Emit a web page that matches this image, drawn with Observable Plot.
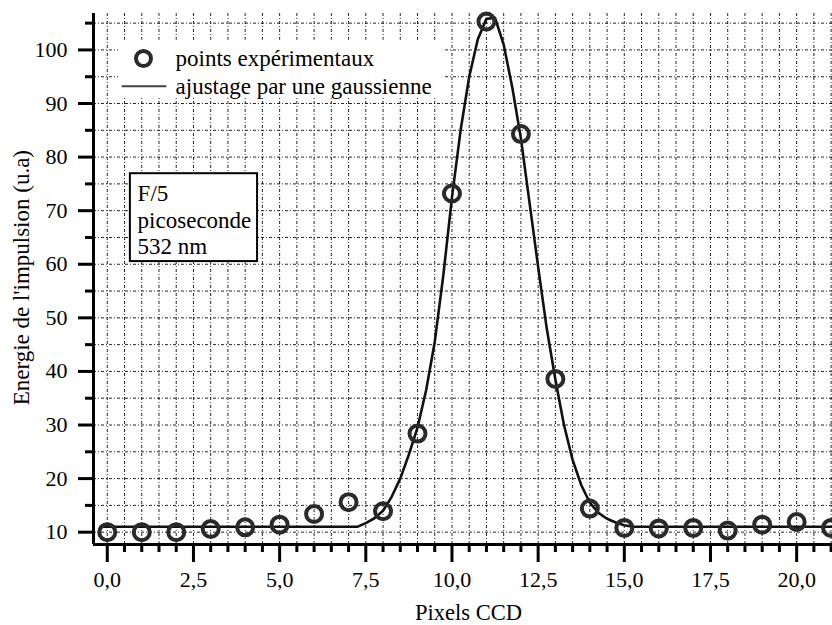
<!DOCTYPE html>
<html>
<head>
<meta charset="utf-8">
<script src="https://cdn.jsdelivr.net/npm/d3@7"></script>
<script src="https://cdn.jsdelivr.net/npm/@observablehq/plot@0.6"></script>
<style>
  html, body { margin: 0; padding: 0; background: white; }
  #chart svg { display: block; }
  #chart svg, #chart svg text { font-family: "Liberation Serif", "DejaVu Serif", serif !important; }
</style>
</head>
<body>
<div id="chart"></div>
<script>
// ---- data ----
const pixels = [0, 1, 2, 3, 4, 5, 6, 7, 8, 9, 10, 11, 12, 13, 14, 15, 16, 17, 18, 19, 20, 21];
const energie = [10.0, 10.0, 10.0, 10.6, 10.9, 11.4, 13.4, 15.6, 13.9, 28.4, 73.2, 105.3, 84.3, 38.6, 14.4, 10.8, 10.7, 10.8, 10.3, 11.4, 11.9, 10.8];

const fitX = [-0.2, 7.25, 7.5, 7.75, 8, 8.25, 8.5, 8.75, 9, 9.25, 9.5, 9.75, 10, 10.25, 10.5, 10.75, 11, 11.25, 11.5, 11.75, 12, 12.25, 12.5, 12.75, 13, 13.25, 13.5, 13.75, 14, 14.25, 14.5, 14.75, 15, 15.25, 21.1];
const fitY = [11.0, 11.0, 11.7, 12.6, 14.0, 16.6, 20.0, 24.5, 29.5, 36.5, 45.5, 58.0, 72.5, 85.0, 95.0, 102.0, 105.8, 106.0, 101.0, 93.0, 83.5, 71.5, 59.5, 48.0, 38.5, 30.0, 23.5, 18.8, 15.5, 13.6, 12.5, 11.8, 11.3, 11.0, 11.0];

const xTicks = [0, 2.5, 5, 7.5, 10, 12.5, 15, 17.5, 20];
const xTickLabels = ["0,0", "2,5", "5,0", "7,5", "10,0", "12,5", "15,0", "17,5", "20,0"];
const xMinor = [0.5, 1, 1.5, 2, 3, 3.5, 4, 4.5, 5.5, 6, 6.5, 7, 8, 8.5, 9, 9.5, 10.5, 11, 11.5, 12, 13, 13.5, 14, 14.5, 15.5, 16, 16.5, 17, 18, 18.5, 19, 19.5, 20.5, 21];
const xGrid = [0, 0.5, 1, 1.5, 2, 2.5, 3, 3.5, 4, 4.5, 5, 5.5, 6, 6.5, 7, 7.5, 8, 8.5, 9, 9.5, 10, 10.5, 11, 11.5, 12, 12.5, 13, 13.5, 14, 14.5, 15, 15.5, 16, 16.5, 17, 17.5, 18, 18.5, 19, 19.5, 20, 20.5, 21];
const yTicks = [10, 20, 30, 40, 50, 60, 70, 80, 90, 100];
const yMinor = [15, 25, 35, 45, 55, 65, 75, 85, 95, 105];
const yGrid = [10, 15, 20, 25, 30, 35, 40, 45, 50, 55, 60, 65, 70, 75, 80, 85, 90, 95, 100, 105];

const xLabel = "Pixels CCD";
const yLabel = "Energie de l'impulsion (u.a)";
const legendLabels = ["points expérimentaux", "ajustage par une gaussienne"];
const boxText = ["F/5", "picoseconde", "532 nm"];

const points = pixels.map((x, i) => ({x, y: energie[i]}));
const fit = fitX.map((x, i) => ({x, y: fitY[i]}));

const X0 = -0.4, X1 = 21.04, Y0 = 7.7, Y1 = 106.8;
const FONT = "Liberation Serif";
const gridStyle = {stroke: "#000", strokeWidth: 1, strokeDasharray: "3,2,1,2", strokeOpacity: 0.85};

const chart = Plot.plot({
  width: 832,
  height: 625,
  marginLeft: 93,
  marginRight: 0,
  marginTop: 13,
  marginBottom: 81,
  x: {domain: [X0, X1], axis: null},
  y: {domain: [Y0, Y1], axis: null},
  style: {fontFamily: FONT, fontSize: "22px", color: "black", background: "white", overflow: "visible"},
  marks: [
    Plot.ruleX(xGrid, {...gridStyle}),
    Plot.ruleY(yGrid, {...gridStyle}),
    // legend background
    Plot.rect([0], {x1: 0.33, x2: 9.75, y1: 91.0, y2: 101.8, fill: "white"}),
    // fit line and points
    Plot.line(fit, {x: "x", y: "y", stroke: "#111", strokeWidth: 2.6, clip: true}),
    Plot.dot(points, {x: "x", y: "y", r: 8, stroke: "#2a2a2a", strokeWidth: 4, fill: "none"}),
    // axes lines
    Plot.ruleX([X0], {stroke: "black", strokeWidth: 3}),
    Plot.ruleY([Y0], {stroke: "black", strokeWidth: 3}),
    Plot.axisY(yTicks, {anchor: "left", tickSize: 15, tickPadding: 11, strokeWidth: 3, fontSize: 22, fontFamily: FONT, label: null, tickFormat: d => String(d)}),
    Plot.axisY(yMinor, {anchor: "left", tickSize: 8, strokeWidth: 3, label: null, tickFormat: () => ""}),
    Plot.axisX(xTicks, {anchor: "bottom", tickSize: 18, tickPadding: 9, strokeWidth: 3, fontSize: 22, fontFamily: FONT, label: null, tickFormat: d => xTickLabels[xTicks.indexOf(d)]}),
    Plot.axisX(xMinor, {anchor: "bottom", tickSize: 8, strokeWidth: 3, label: null, tickFormat: () => ""}),
    // axis titles
    Plot.text([xLabel], {x: 10.48, y: -5.0, text: d => d, fontSize: 22.5, fontFamily: FONT}),
    Plot.text([yLabel], {x: -2.49, y: 57.5, text: d => d, rotate: -90, fontSize: 23, fontFamily: FONT}),
    // legend
    Plot.dot([0], {x: 1.05, y: 98.4, r: 7.5, stroke: "#2a2a2a", strokeWidth: 4, fill: "none"}),
    Plot.text([legendLabels[0]], {x: 1.98, y: 98.4, text: d => d, textAnchor: "start", fontSize: 23, fontFamily: FONT}),
    Plot.line([{x: 0.44, y: 93.2}, {x: 1.69, y: 93.2}], {x: "x", y: "y", stroke: "#444", strokeWidth: 2}),
    Plot.text([legendLabels[1]], {x: 1.98, y: 93.2, text: d => d, textAnchor: "start", fontSize: 23, fontFamily: FONT}),
    // info box
    Plot.rect([0], {x1: 0.67, x2: 4.36, y1: 60.5, y2: 76.9, fill: "white", stroke: "black", strokeWidth: 2}),
    Plot.text([boxText.join("\n")], {x: 0.88, y: 75.3, text: d => d, textAnchor: "start", lineAnchor: "top", lineHeight: 1.15, fontSize: 23, fontFamily: FONT})
  ]
});
document.getElementById("chart").appendChild(chart);
</script>
</body>
</html>
